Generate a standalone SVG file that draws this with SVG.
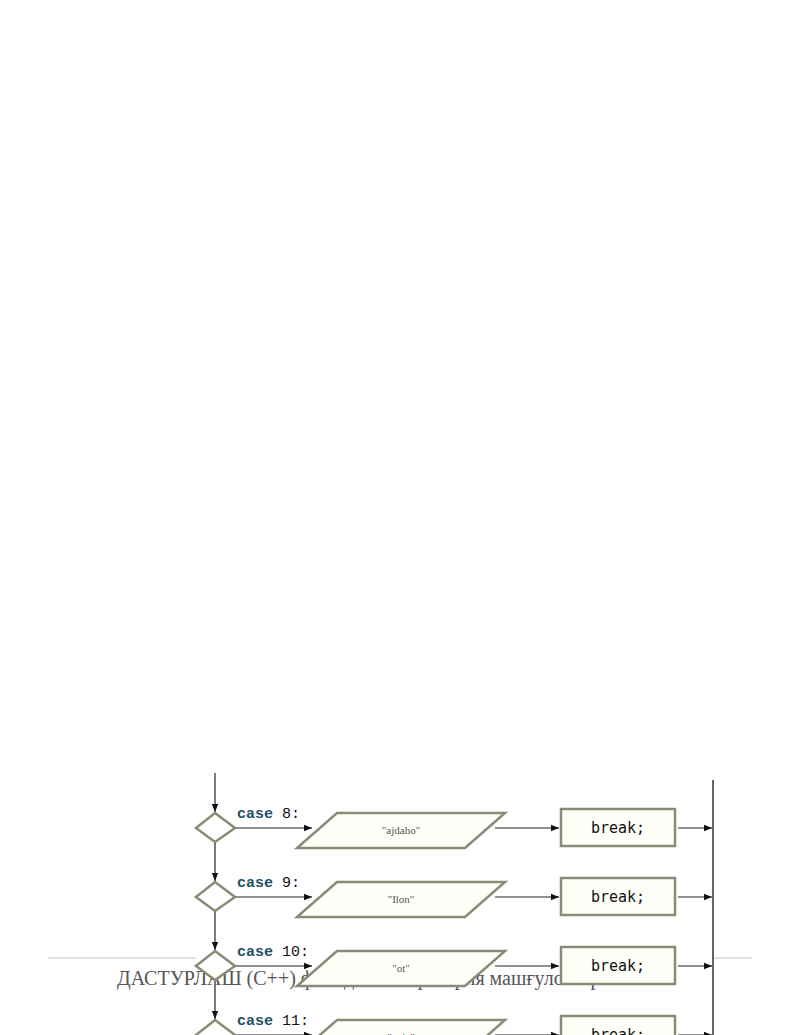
<svg xmlns="http://www.w3.org/2000/svg" width="800" height="1035" viewBox="0 0 800 1035">
<defs>
<marker id="ah" viewBox="0 0 10 10" refX="10" refY="5" markerWidth="8" markerHeight="8" markerUnits="userSpaceOnUse" orient="auto">
<path d="M0,1 L10,5 L0,9 z" fill="#111"/>
</marker>
<style>
.shape{fill:#fffffa;stroke:#8c8a76;stroke-width:2.5}
.dia{fill:#ffffff;stroke:#8c8a76;stroke-width:2.5}
.con{stroke:#222;stroke-width:1.2;fill:none;marker-end:url(#ah)}
.kw{font-family:"Liberation Mono","DejaVu Sans Mono",monospace;font-size:15px;font-weight:bold;fill:#1e5066}
.num{font-family:"Liberation Mono","DejaVu Sans Mono",monospace;font-size:15px;fill:#111}
.brk{font-family:"DejaVu Sans Mono","Liberation Mono",monospace;font-size:15px;fill:#111;text-anchor:middle}
.io{font-family:"Liberation Serif",serif;font-size:11px;fill:#555;text-anchor:middle}
.foot{font-family:"Liberation Serif",serif;font-size:20px;fill:#555}
</style>
</defs>
<rect width="800" height="1035" fill="#ffffff"/>
<g id="footer">
<line x1="48" y1="958" x2="196" y2="958" stroke="#c8c8c8" stroke-width="1"/>
<line x1="713" y1="958" x2="752" y2="958" stroke="#c8c8c8" stroke-width="1"/>
<text class="foot" x="117" y="985">ДАСТУРЛАШ (C++) фанидан лаборатория машғулотлари</text>
</g>
<g id="connectors">
<line class="con" x1="215" y1="773" x2="215" y2="812"/>
<line class="con" x1="215" y1="842" x2="215" y2="881"/>
<line class="con" x1="215" y1="911" x2="215" y2="950"/>
<line class="con" x1="215" y1="980" x2="215" y2="1019"/>
<line class="con" x1="235" y1="828" x2="312" y2="828"/>
<line class="con" x1="235" y1="897" x2="312" y2="897"/>
<line class="con" x1="235" y1="966" x2="312" y2="966"/>
<line class="con" x1="235" y1="1035" x2="312" y2="1035"/>
<line class="con" x1="495" y1="828" x2="559" y2="828"/>
<line class="con" x1="495" y1="897" x2="559" y2="897"/>
<line class="con" x1="495" y1="966" x2="559" y2="966"/>
<line class="con" x1="495" y1="1035" x2="559" y2="1035"/>
<line class="con" x1="678" y1="828" x2="712" y2="828"/>
<line class="con" x1="678" y1="897" x2="712" y2="897"/>
<line class="con" x1="678" y1="966" x2="712" y2="966"/>
<line class="con" x1="678" y1="1035" x2="712" y2="1035"/>
<line x1="713" y1="780" x2="713" y2="1035" stroke="#333" stroke-width="1.5"/>
</g>
<g id="case8">
<polygon class="dia" points="215,813 235,828 215,842 196,828"/>
<text x="237" y="818"><tspan class="kw">case</tspan><tspan class="num"> 8:</tspan></text>
</g>
<g id="out8">
<polygon class="shape" points="337,813 505,813 465,848 297,848"/>
<text class="io" x="401" y="834">"ajdaho"</text>
</g>
<g id="break8">
<rect class="shape" x="561" y="809" width="114" height="37"/>
<text class="brk" x="618" y="833">break;</text>
</g>
<g id="case9">
<polygon class="dia" points="215,882 235,897 215,911 196,897"/>
<text x="237" y="887"><tspan class="kw">case</tspan><tspan class="num"> 9:</tspan></text>
</g>
<g id="out9">
<polygon class="shape" points="337,882 505,882 465,917 297,917"/>
<text class="io" x="401" y="903">"Ilon"</text>
</g>
<g id="break9">
<rect class="shape" x="561" y="878" width="114" height="37"/>
<text class="brk" x="618" y="902">break;</text>
</g>
<g id="case10">
<polygon class="dia" points="215,951 235,966 215,980 196,966"/>
<text x="237" y="956"><tspan class="kw">case</tspan><tspan class="num"> 10:</tspan></text>
</g>
<g id="out10">
<polygon class="shape" points="337,951 505,951 465,986 297,986"/>
<text class="io" x="401" y="972">"ot"</text>
</g>
<g id="break10">
<rect class="shape" x="561" y="947" width="114" height="37"/>
<text class="brk" x="618" y="971">break;</text>
</g>
<g id="case11">
<polygon class="dia" points="215,1020 235,1035 215,1049 196,1035"/>
<text x="237" y="1025"><tspan class="kw">case</tspan><tspan class="num"> 11:</tspan></text>
</g>
<g id="out11">
<polygon class="shape" points="337,1020 505,1020 465,1055 297,1055"/>
<text class="io" x="401" y="1041">"qo'y"</text>
</g>
<g id="break11">
<rect class="shape" x="561" y="1016" width="114" height="37"/>
<text class="brk" x="618" y="1040">break;</text>
</g>
</svg>
